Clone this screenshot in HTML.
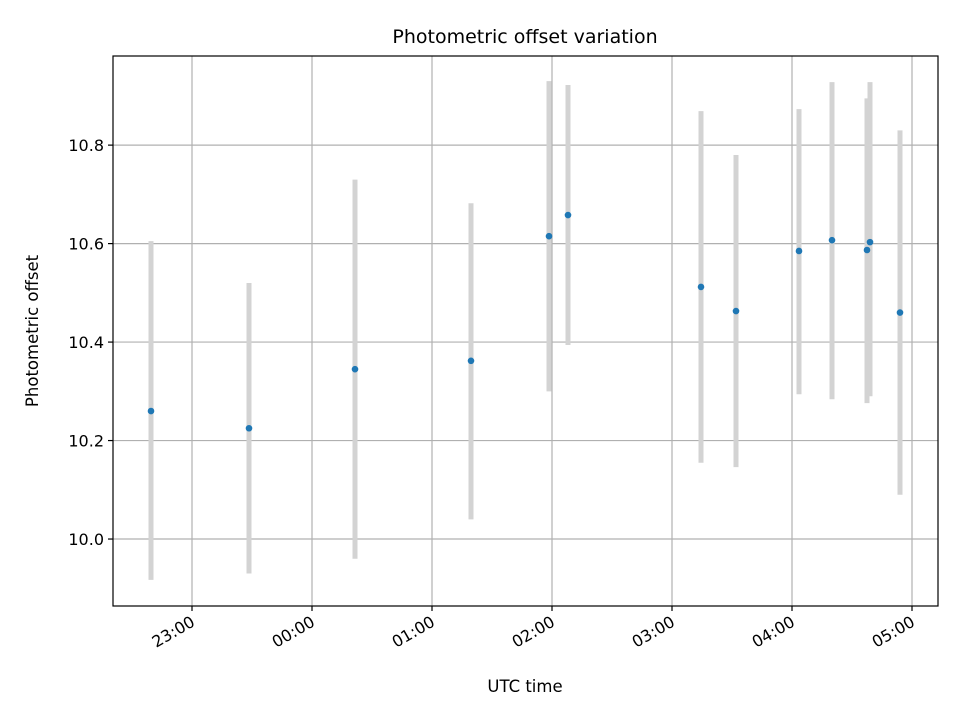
<!DOCTYPE html>
<html><head><meta charset="utf-8"><style>
body{margin:0;background:#fff}
svg text{font-family:"DejaVu Sans","Liberation Sans",sans-serif;fill:#000}
</style></head><body>
<svg id="chart" width="960" height="720" viewBox="0 0 960 720" xmlns="http://www.w3.org/2000/svg">
<rect width="960" height="720" fill="#fff"/>
<text x="525" y="43" font-size="19" text-anchor="middle">Photometric offset variation</text>
<text x="525" y="692" font-size="16.5" text-anchor="middle">UTC time</text>
<text transform="translate(38,331) rotate(-90)" font-size="16.5" text-anchor="middle">Photometric offset</text>
<g id="grid"></g><g id="marks"></g><g id="axes"></g>
</svg>
<script>
// minutes after 23:00
const times = [-20.5, 28.5, 81.5, 139.5, 178.5, 188, 254.5, 272, 303.5, 320, 337.5, 339, 354];
const offsets = [10.26, 10.225, 10.345, 10.362, 10.615, 10.658, 10.512, 10.463, 10.585, 10.607, 10.587, 10.603, 10.46];
const errHigh = [10.605, 10.52, 10.73, 10.682, 10.93, 10.922, 10.869, 10.78, 10.873, 10.928, 10.895, 10.928, 10.83];
const errLow = [9.917, 9.93, 9.96, 10.04, 10.30, 10.394, 10.155, 10.146, 10.294, 10.284, 10.276, 10.29, 10.09];
const xTicks = [0, 60, 120, 180, 240, 300, 360];
const xTickLabels = ["23:00","00:00","01:00","02:00","03:00","04:00","05:00"];
const yTicks = [10.0, 10.2, 10.4, 10.6, 10.8];
const yTickLabels = ["10.0","10.2","10.4","10.6","10.8"];

const L=113,R=938,T=56,B=606;
const xMin=-39.5,xMax=373,yMin=9.864,yMax=10.981;
const X=m=>L+(m-xMin)/(xMax-xMin)*(R-L);
const Y=v=>B-(v-yMin)/(yMax-yMin)*(B-T);
const NS="http://www.w3.org/2000/svg";
function mk(tag,attrs,parent){const e=document.createElementNS(NS,tag);for(const k in attrs)e.setAttribute(k,attrs[k]);parent.appendChild(e);return e;}
const grid=document.getElementById('grid'),marks=document.getElementById('marks'),axes=document.getElementById('axes');

xTicks.forEach((t,i)=>{
  const x=X(t);
  const g=mk('line',{x1:x,x2:x,y1:T,y2:B,stroke:'#b0b0b0','stroke-width':1.2},grid);
  
  
  const tk=mk('line',{x1:x,x2:x,y1:B,y2:B+5,stroke:'#000','stroke-width':1.2},axes);
  
  
  const ax=x+4, ay=B+19;
  const tx=mk('text',{x:ax,y:ay,'font-size':16,'text-anchor':'end',transform:`rotate(-30 ${ax} ${ay})`},axes);
  tx.textContent=xTickLabels[i];
  
  
});
yTicks.forEach((t,i)=>{
  const y=Y(t);
  const g=mk('line',{x1:L,x2:R,y1:y,y2:y,stroke:'#b0b0b0','stroke-width':1.2},grid);
  
  
  const tk=mk('line',{x1:L-5,x2:L,y1:y,y2:y,stroke:'#000','stroke-width':1.2},axes);
  
  
  const tx=mk('text',{x:L-9,y:y+6,'font-size':16,'text-anchor':'end'},axes);
  tx.textContent=yTickLabels[i];
  
  
});
times.forEach((t,i)=>{
  const x=X(t);
  const eb=mk('line',{x1:x,x2:x,y1:Y(errHigh[i]),y2:Y(errLow[i]),stroke:'#d3d3d3','stroke-width':5},marks);
  
  
});
times.forEach((t,i)=>{
  const p=mk('circle',{cx:X(t),cy:Y(offsets[i]),r:3.3,fill:'#1f77b4'},marks);
  
  
});
const frame=mk('rect',{x:L,y:T,width:R-L,height:B-T,fill:'none',stroke:'#000','stroke-width':1.2},axes);


</script>
</body></html>
